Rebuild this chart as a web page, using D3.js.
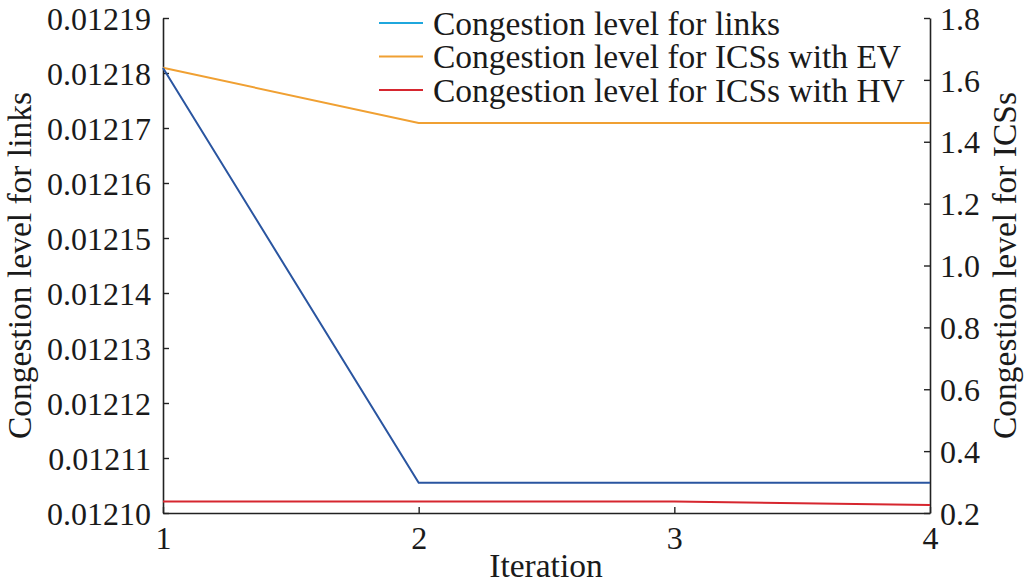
<!DOCTYPE html>
<html>
<head>
<meta charset="utf-8">
<script src="https://cdn.jsdelivr.net/npm/d3@7"></script>
<style>
  body { margin: 0; background: #fff; }
  svg text { font-family: "Liberation Serif", "Times New Roman", Times, serif; fill: #1a1a1a; }
</style>
</head>
<body>
<svg id="svg" width="1029" height="588"></svg>
<script>
// data
var iterations = [1, 2, 3, 4];
var linkLevel = [0.0121809, 0.0121055, 0.0121055, 0.0121055];
var evLevel = [1.639, 1.461, 1.461, 1.461];
var hvLevel = [0.237, 0.237, 0.237, 0.226];
var leftTicks = [0.01210, 0.01211, 0.01212, 0.01213, 0.01214, 0.01215, 0.01216, 0.01217, 0.01218, 0.01219];
var rightTicks = [0.2, 0.4, 0.6, 0.8, 1.0, 1.2, 1.4, 1.6, 1.8];
var legendNames = ["Congestion level for links", "Congestion level for ICSs with EV", "Congestion level for ICSs with HV"];
var legendColors = ["#1fa7dd", "#f0a032", "#d6262f"];

function draw() {
  var svg = d3.select("#svg");
  var left = 163, right = 930, top = 18, bottom = 513;
  var fs = 32, fsLab = 33.5;

  var x = d3.scaleLinear().domain([1, 4]).range([left, right]);
  var yL = d3.scaleLinear().domain([0.01210, 0.01219]).range([bottom, top]);
  var yR = d3.scaleLinear().domain([0.2, 1.8]).range([bottom, top]);

  // axes, ticks pointing inside
  var gX = svg.append("g").attr("transform", "translate(0," + bottom + ")")
    .call(d3.axisBottom(x).tickValues(iterations).tickSizeInner(-6).tickSizeOuter(0).tickPadding(14).tickFormat(d3.format("d")));
  var gL = svg.append("g").attr("transform", "translate(" + left + ",0)")
    .call(d3.axisLeft(yL).tickValues(leftTicks).tickSizeInner(-6).tickSizeOuter(0).tickPadding(12).tickFormat(d3.format(".5f")));
  var gR = svg.append("g").attr("transform", "translate(" + right + ",0)")
    .call(d3.axisRight(yR).tickValues(rightTicks).tickSizeInner(-6).tickSizeOuter(0).tickPadding(10).tickFormat(d3.format(".1f")));

  [gX, gL, gR].forEach(function(g) {
    g.attr("font-family", null).attr("font-size", null);
    g.select(".domain").attr("stroke", "#222").attr("stroke-width", 1.6);
    g.selectAll(".tick line").attr("stroke", "#222").attr("stroke-width", 1.4);
    g.selectAll(".tick text").attr("font-size", fs).attr("fill", "#1a1a1a");
  });
  gX.selectAll(".tick text").attr("dy", "0.68em");
  gL.selectAll(".tick text").attr("dy", "0.35em");
  gR.selectAll(".tick text").attr("dy", "0.35em");

  // lines
  var lineL = d3.line().x(function(d, i) { return x(iterations[i]); }).y(function(d) { return yL(d); });
  var lineR = d3.line().x(function(d, i) { return x(iterations[i]); }).y(function(d) { return yR(d); });

  svg.append("path").datum(evLevel).attr("d", lineR)
    .attr("fill", "none").attr("stroke", legendColors[1]).attr("stroke-width", 2);
  svg.append("path").datum(hvLevel).attr("d", lineR)
    .attr("fill", "none").attr("stroke", legendColors[2]).attr("stroke-width", 2);
  svg.append("path").datum(linkLevel).attr("d", lineL)
    .attr("fill", "none").attr("stroke", "#2a55a0").attr("stroke-width", 2);

  // axis titles
  svg.append("text")
    .attr("transform", "translate(31," + ((top + bottom) / 2) + ") rotate(-90)")
    .attr("text-anchor", "middle").attr("font-size", fsLab)
    .text("Congestion level for links");
  svg.append("text")
    .attr("transform", "translate(1016," + ((top + bottom) / 2) + ") rotate(-90)")
    .attr("text-anchor", "middle").attr("font-size", fsLab)
    .text("Congestion level for ICSs");
  svg.append("text")
    .attr("x", 546).attr("y", 577)
    .attr("text-anchor", "middle").attr("font-size", fsLab)
    .text("Iteration");

  // legend
  var lg = svg.append("g");
  legendNames.forEach(function(name, i) {
    var cy = 23 + i * 33.5;
    lg.append("line").attr("x1", 379).attr("x2", 423).attr("y1", cy).attr("y2", cy)
      .attr("stroke", legendColors[i]).attr("stroke-width", 2);
    lg.append("text").attr("x", 433).attr("y", cy).attr("dy", "0.35em")
      .attr("font-size", fsLab).text(name);
  });
}
draw();
</script>
</body>
</html>
